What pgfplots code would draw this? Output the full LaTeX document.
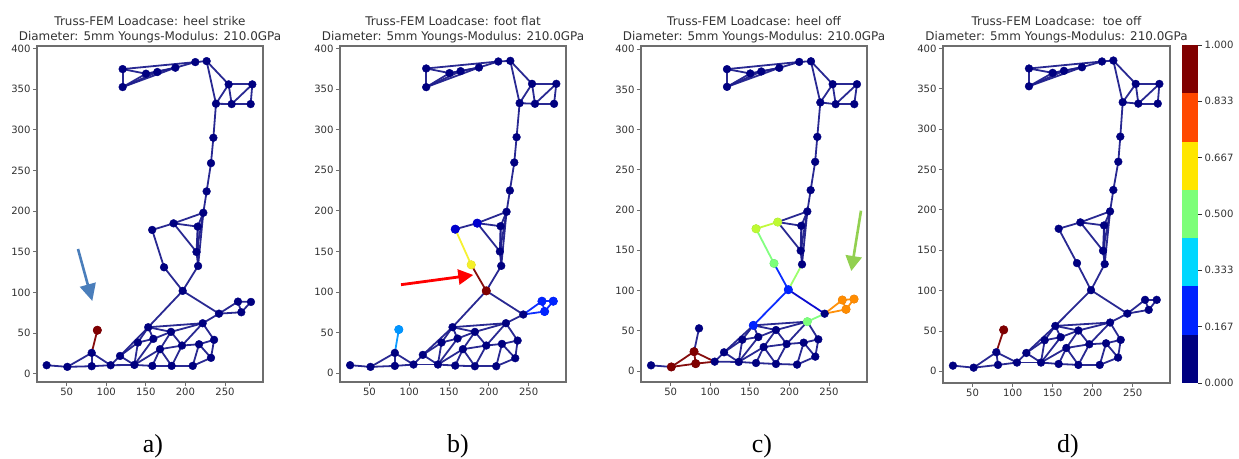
\documentclass[border=0pt]{standalone}
\usepackage{pgfplots}
\usepackage{pgfplotstable}
\usepackage{fontspec}
\setmainfont{DejaVu Sans}
\newfontfamily\capfont{Liberation Serif}
\pgfplotsset{compat=1.18}
\usetikzlibrary{arrows.meta}

\definecolor{cNavy}{RGB}{0,0,128}
\definecolor{cEdge}{RGB}{30,30,140}
\definecolor{cBlue}{RGB}{0,35,255}
\definecolor{cMidB}{RGB}{0,0,205}
\definecolor{cSky}{RGB}{0,150,255}
\definecolor{cCyan}{RGB}{0,215,255}
\definecolor{cGreen}{RGB}{124,255,121}
\definecolor{cLime}{RGB}{150,255,100}
\definecolor{cYG}{RGB}{190,250,50}
\definecolor{cYellow}{RGB}{255,230,0}
\definecolor{cYel}{RGB}{245,240,40}
\definecolor{cOrange}{RGB}{255,72,0}
\definecolor{cOr}{RGB}{255,140,0}
\definecolor{cDark}{RGB}{128,0,0}
\definecolor{axgray}{RGB}{110,110,110}
\definecolor{txtgray}{RGB}{50,50,50}

% node coordinates, panel a)
\pgfplotstableread{
x y
120.7 374.6
120.7 352.5
150.2 368.9
164.5 371.0
187.3 376.3
212.5 383.2
226.8 384.4
254.6 355.8
284.5 355.8
238.6 332.0
258.4 331.6
282.4 331.6
235.3 290.2
232.3 259.0
226.8 224.3
222.6 198.0
185.0 185.0
215.5 181.0
158.0 176.9
214.0 149.8
173.0 131.0
216.0 132.6
196.5 102.0
153.0 57.3
221.8 62.2
242.4 74.0
266.4 88.8
282.8 88.4
270.6 75.7
181.8 51.6
159.5 43.0
140.0 38.5
117.4 22.0
135.5 11.0
105.6 10.6
81.6 9.4
81.6 25.8
50.8 8.6
24.7 10.6
88.7 53.6
167.9 30.3
195.7 34.8
217.2 36.4
236.2 41.8
232.3 19.7
209.2 9.8
182.6 9.8
158.2 9.8
}\nodesA
% panel b)
\pgfplotstableread{
x y
121.3 375.3
121.3 352.3
150.6 369.6
164.5 372.0
187.6 376.5
211.9 383.9
227.0 384.7
254.3 356.4
284.8 356.4
238.7 332.6
258.0 331.8
282.0 331.8
234.9 290.7
232.0 259.5
226.5 225.0
222.3 198.8
185.4 184.8
214.8 181.1
157.8 177.4
213.9 149.9
177.9 133.5
215.6 132.2
196.8 101.4
154.4 56.7
221.5 61.6
243.3 72.3
266.8 88.7
281.0 88.7
270.1 76.0
182.5 50.9
160.7 42.7
140.6 37.8
117.1 22.6
136.0 10.7
105.4 10.7
81.9 9.0
81.9 25.0
51.3 7.8
25.7 9.9
86.9 53.8
167.4 29.6
196.8 34.1
216.5 36.1
236.2 40.2
233.2 18.5
209.3 8.6
182.5 8.6
157.8 9.4
}\nodesB
% panel c)
\pgfplotstableread{
x y
121.1 375.2
121.1 353.2
150.5 369.8
164.4 372.3
187.2 376.8
212.4 384.2
227.2 385.0
254.6 356.5
285.3 356.5
239.0 333.8
258.4 331.7
281.9 331.7
235.2 291.0
232.5 260.0
226.8 224.8
222.6 198.3
185.2 185.1
215.0 180.5
157.8 176.8
214.2 149.5
180.5 133.7
215.9 132.5
198.6 101.0
154.4 56.7
222.6 61.3
244.5 71.2
266.8 88.2
281.6 89.4
271.5 76.6
183.0 50.9
160.7 42.2
140.5 38.9
117.4 23.2
135.9 11.2
105.6 11.6
81.6 9.1
79.5 24.0
50.8 5.0
25.2 7.0
85.8 53.0
167.5 29.8
196.5 33.5
218.0 35.2
236.5 39.3
232.7 17.8
209.6 7.9
183.0 8.7
157.8 9.9
}\nodesC
% panel d)
\pgfplotstableread{
x y
120.4 375.1
120.4 353.1
150.0 369.7
164.1 372.2
186.6 376.7
211.6 383.8
225.8 385.0
253.8 356.0
283.3 356.0
237.5 333.3
257.0 331.6
281.3 331.6
234.5 290.7
232.0 259.6
225.8 224.6
221.7 198.1
184.6 184.5
214.2 180.7
157.5 176.6
212.9 149.3
180.4 134.0
215.0 132.8
197.9 100.5
153.3 56.2
221.7 60.4
243.3 71.5
265.4 88.5
280.0 88.5
270.0 76.1
182.1 50.5
160.0 42.2
140.0 38.5
117.1 22.7
135.4 10.8
105.4 10.8
81.7 7.9
79.6 23.6
51.3 4.5
25.4 7.0
88.8 51.3
167.1 28.9
195.8 33.5
216.7 34.7
235.0 38.9
231.7 17.0
208.8 7.9
182.1 7.9
157.5 9.1
}\nodesD

\newcommand\edgesAll{1/2,1/3,1/6,2/3,2/4,2/5,3/4,3/5,4/5,5/6,6/7,7/8,7/10,8/10,8/9,8/11,9/11,9/12,10/11,11/12,10/13,13/14,14/15,15/16,%
16/17,16/18,17/18,17/19,17/20,18/20,18/22,16/20,16/22,19/21,21/23,22/23,20/22,23/24,23/26,24/25,24/33,24/32,24/30,24/31,25/26,25/30,26/27,26/29,27/28,27/29,28/29,%
25/42,25/44,30/31,31/32,31/34,32/33,32/34,33/34,30/41,30/42,41/42,41/34,41/48,41/47,42/47,42/43,43/44,43/46,43/45,44/45,45/46,46/47,47/48,48/34,34/35,35/36,35/37,36/37,36/38,37/38,38/39,37/40,33/35}

\newcommand\edge[4]{%
  \pgfmathtruncatemacro\ia{#2-1}\pgfmathtruncatemacro\ib{#3-1}%
  \pgfplotstablegetelem{\ia}{x}\of#1\edef\xa{\pgfplotsretval}%
  \pgfplotstablegetelem{\ia}{y}\of#1\edef\ya{\pgfplotsretval}%
  \pgfplotstablegetelem{\ib}{x}\of#1\edef\xb{\pgfplotsretval}%
  \pgfplotstablegetelem{\ib}{y}\of#1\edef\yb{\pgfplotsretval}%
  \edef\temp{\noexpand\addplot[#4,line width=1.8bp,opacity=0.95,no marks,forget plot] coordinates {(\xa,\ya)(\xb,\yb)};}\temp}
% #1 panel tag, #2 node table, #3 list of coloured edges a/b/colour
\newcommand\network[3]{%
  \foreach \a/\b/\c in {#3} {\expandafter\gdef\csname skip#1\a-\b\endcsname{}}%
  \foreach \a/\b in \edgesAll {\ifcsname skip#1\a-\b\endcsname\else\edge{#2}{\a}{\b}{cEdge}\fi}%
  \foreach \a/\b/\c in {#3} {\edge{#2}{\a}{\b}{\c}}%
  \addplot[only marks,mark=*,mark size=3.9bp,cNavy,forget plot] table[x=x,y=y] {#2};}
\newcommand\hnode[3]{\addplot[only marks,mark=*,mark size=4.3bp,#1,forget plot] coordinates {(#2,#3)};}

\pgfplotsset{truss/.style={
  scale only axis, anchor=south west,
  axis line style={axgray,line width=1.1bp},
  tick style={axgray,line width=0.8bp},
  tickwidth=3.6bp, tick align=outside,
  xtick pos=bottom, ytick pos=left,
  xtick={50,100,150,200,250},
  ytick={0,50,100,150,200,250,300,350,400},
  ticklabel style={font=\fontsize{10.1}{11}\selectfont,text=txtgray,/pgf/number format/assume math mode=true},
  xticklabel style={yshift=0.6bp},
  yticklabel style={xshift=0.6bp},
  title style={font=\fontsize{12}{15}\selectfont,text=txtgray,align=center,at={(0.5,1)},anchor=south,yshift=-6bp},
}}

\begin{document}
\begin{tikzpicture}[x=1bp,y=1bp]
\useasboundingbox (0,0) rectangle (1239,459);

\begin{axis}[truss,at={(37bp,77bp)},width=226bp,height=336bp,xmin=12.5,xmax=298,ymin=-10,ymax=403,
  title={Truss-FEM Loadcase: heel strike\\Diameter: 5mm Youngs-Modulus: 210.0GPa}]
\network{A}{\nodesA}{37/40/cDark}
\hnode{cDark}{88.7}{53.6}
\end{axis}

\begin{axis}[truss,at={(340bp,77bp)},width=226bp,height=336bp,xmin=13,xmax=297,ymin=-10.8,ymax=403,
  title={Truss-FEM Loadcase: foot flat\\Diameter: 5mm Youngs-Modulus: 210.0GPa}]
\network{B}{\nodesB}{37/40/cSky,19/21/cYel,21/23/cDark,26/27/cBlue,26/29/cBlue,27/28/cBlue,27/29/cBlue,28/29/cBlue}
\hnode{cSky}{86.9}{53.8}
\hnode{cYel}{177.9}{133.5}
\hnode{cDark}{196.8}{101.4}
\hnode{cMidB}{157.8}{177.4}
\hnode{cMidB}{185.4}{184.8}
\hnode{cBlue}{266.8}{88.7}
\hnode{cBlue}{281.0}{88.7}
\hnode{cBlue}{270.1}{76.0}
\end{axis}

\begin{axis}[truss,at={(641bp,77bp)},width=226bp,height=336bp,xmin=12.5,xmax=298,ymin=-13.7,ymax=404,
  title={Truss-FEM Loadcase: heel off\\Diameter: 5mm Youngs-Modulus: 210.0GPa}]
\network{C}{\nodesC}{36/37/cDark,36/38/cDark,37/38/cDark,35/36/cDark,35/37/cDark,17/19/cYG,19/21/cGreen,21/23/cBlue,22/23/cLime,23/24/cBlue,23/26/cMidB,25/26/cGreen,26/27/cOr,26/29/cOr,27/28/cOr,27/29/cOr,28/29/cOr}
\hnode{cDark}{81.6}{9.1}
\hnode{cDark}{79.5}{24.0}
\hnode{cDark}{50.8}{5.0}
\hnode{cYG}{157.8}{176.8}
\hnode{cYG}{185.2}{185.1}
\hnode{cGreen}{180.5}{133.7}
\hnode{cBlue}{198.6}{101.0}
\hnode{cBlue}{154.4}{56.7}
\hnode{cGreen}{222.6}{61.3}
\hnode{cOr}{266.8}{88.2}
\hnode{cOr}{281.6}{89.4}
\hnode{cOr}{271.5}{76.6}
\end{axis}

\begin{axis}[truss,at={(943bp,76bp)},width=227bp,height=337bp,xmin=13,xmax=296.6,ymin=-14.5,ymax=403,
  title={Truss-FEM Loadcase:\ \ toe off\\Diameter: 5mm Youngs-Modulus: 210.0GPa}]
\network{D}{\nodesD}{37/40/cDark}
\hnode{cDark}{88.8}{51.3}
\end{axis}

% colour bar
\begin{axis}[scale only axis,anchor=south west,at={(1182bp,76bp)},width=16bp,height=338bp,
  xmin=0,xmax=1,ymin=0,ymax=1,xtick=\empty,
  axis line style={draw=none},
  tick style={black!80,line width=0.8bp},tickwidth=3.6bp,tick align=outside,
  ytick pos=right,yticklabel pos=right,
  ytick={0,0.1667,0.3333,0.5,0.6667,0.8333,1},
  yticklabels={0.000,0.167,0.333,0.500,0.667,0.833,1.000},
  yticklabel style={font=\fontsize{10.1}{11}\selectfont,text=txtgray,xshift=-0.5bp},
  clip=true]
\addplot[fill=cNavy,draw=none] coordinates {(0,0)(1,0)(1,0.14286)(0,0.14286)} --cycle;
\addplot[fill=cBlue,draw=none] coordinates {(0,0.14286)(1,0.14286)(1,0.28571)(0,0.28571)} --cycle;
\addplot[fill=cCyan,draw=none] coordinates {(0,0.28571)(1,0.28571)(1,0.42857)(0,0.42857)} --cycle;
\addplot[fill=cGreen,draw=none] coordinates {(0,0.42857)(1,0.42857)(1,0.57143)(0,0.57143)} --cycle;
\addplot[fill=cYellow,draw=none] coordinates {(0,0.57143)(1,0.57143)(1,0.71429)(0,0.71429)} --cycle;
\addplot[fill=cOrange,draw=none] coordinates {(0,0.71429)(1,0.71429)(1,0.85714)(0,0.85714)} --cycle;
\addplot[fill=cDark,draw=none] coordinates {(0,0.85714)(1,0.85714)(1,1)(0,1)} --cycle;
\end{axis}

% annotation arrows
\definecolor{arB}{RGB}{74,126,187}
\definecolor{arG}{RGB}{146,208,80}
\draw[arB,line width=2.6bp,-{Triangle[length=17bp,width=16bp]}] (78,210) -- (92.3,158);
\draw[red,line width=2.8bp,-{Triangle[length=15bp,width=15bp]}] (401,174.3) -- (473.3,184);
\draw[arG,line width=2.6bp,-{Triangle[length=15bp,width=16bp]}] (861,248.3) -- (851.3,188);

% panel captions
\node[font=\capfont\fontsize{26}{28}\selectfont,black] at (153,13) {a)};
\node[font=\capfont\fontsize{26}{28}\selectfont,black] at (458,13) {b)};
\node[font=\capfont\fontsize{26}{28}\selectfont,black] at (762,13) {c)};
\node[font=\capfont\fontsize{26}{28}\selectfont,black] at (1068,13) {d)};
\end{tikzpicture}
\end{document}
